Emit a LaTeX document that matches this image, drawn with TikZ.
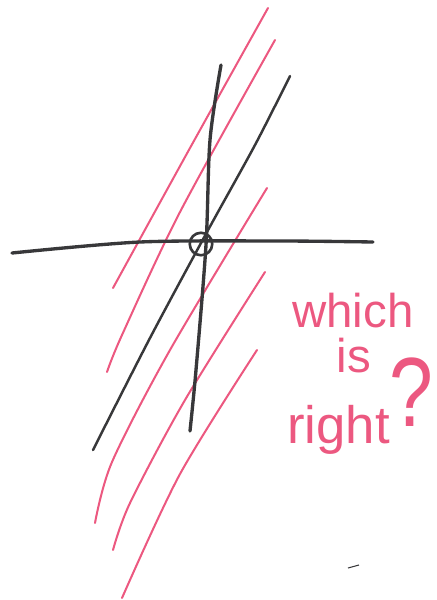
\documentclass[tikz,border=0pt]{standalone}
\usepackage{fontspec}
\setmainfont{Liberation Sans}
\usepackage{graphicx}
\usepackage{xcolor}
\usetikzlibrary{positioning}
\definecolor{inkpink}{RGB}{236,88,128}
\definecolor{inkgray}{RGB}{56,56,58}

\begin{document}
\begin{tikzpicture}[
    x=0.02cm, y=-0.02cm,
    axis/.style={draw=inkgray, line width=1.9pt, line cap=round, line join=round},
    guess/.style={draw=inkgray, line width=1.4pt, line cap=round, line join=round},
    parallel/.style={draw=inkpink, line width=1.15pt, line cap=round, line join=round},
    origin/.style={circle, draw=inkgray, line width=1.5pt, minimum size=0.45cm, inner sep=0pt},
    scrawl/.style={text=inkpink, inner sep=0pt, font=\fontsize{27}{30}\selectfont}
]
\useasboundingbox (0,0) rectangle (437,600);
% pink family of parallel lines
\draw[parallel] plot[smooth] coordinates {(268,8) (190,148) (113,288)};
\draw[parallel] plot[smooth] coordinates {(275,40) (180,212) (122,335) (107,372)};
\draw[parallel] plot[smooth] coordinates {(267,188) (170,350) (112,462) (95,523)};
\draw[parallel] plot[smooth] coordinates {(265,272) (185,400) (130,503) (113,550)};
\draw[parallel] plot[smooth] coordinates {(257,350) (180,474) (122,598)};
% axes
\draw[axis] plot[smooth] coordinates {(12,253) (140,242) (280,241) (373,242)};
\draw[axis] plot[smooth] coordinates {(221,65) (210,140) (206,245) (196,370) (190,431)};
% the slanted line through the origin
\draw[guess] plot[smooth] coordinates {(290,76) (255,145) (207,232) (150,338) (93,450)};
\node[origin] (orig) at (201,244) {};
% question
\node[scrawl, anchor=base] (which) at (353,327) {which};
\node[scrawl, anchor=base] (is) at (354,372) {is};
\node[scrawl, anchor=base west, font=\fontsize{30}{30}\selectfont] (right) at (287,443) {right\raisebox{0.34cm}{\scalebox{0.8}[1]{\fontsize{56}{56}\selectfont ?}}};
% stray mark
\draw[inkgray, line width=0.6pt] (348,568) -- (359,565);
\end{tikzpicture}
\end{document}
